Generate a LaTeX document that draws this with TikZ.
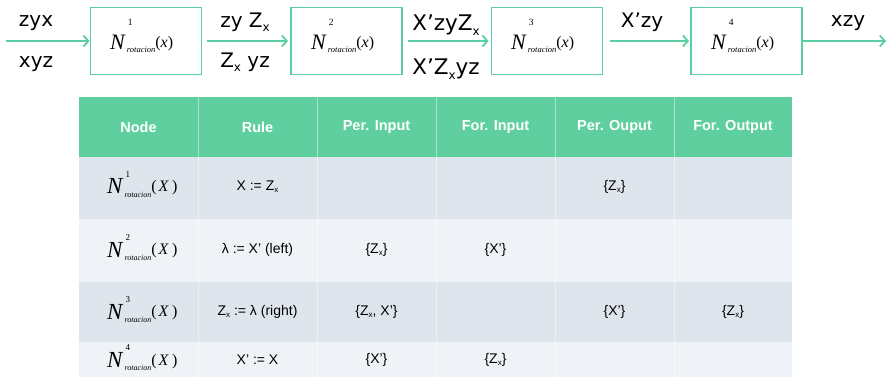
\documentclass[tikz,border=0pt]{standalone}
\usepackage{fontspec}
\setmainfont{Liberation Sans}
\newfontfamily\dvfont{DejaVu Sans}
\newfontfamily\tnr{Liberation Serif}
\usetikzlibrary{arrows.meta}
\definecolor{mint}{HTML}{5CCFA2}
\definecolor{hdr}{HTML}{5FCFA0}
\definecolor{rowA}{HTML}{DFE5EC}
\definecolor{rowB}{HTML}{EFF3F7}
\newcommand{\myNrot}[2]{{\tnr{\fontsize{22}{22}\selectfont\textit{N}}\hspace{1pt}\rlap{\hspace{1pt}\smash{\raisebox{24pt}{\fontsize{9.5}{9.5}\selectfont #1}}}\raisebox{-3pt}{\fontsize{8.5}{8.5}\selectfont\textit{rotacion}}\raisebox{2pt}{\fontsize{16}{16}\selectfont(\textit{#2})}}}
\newcommand{\myNtab}[1]{{\tnr{\fontsize{23}{23}\selectfont\textit{N}}\hspace{1pt}\rlap{\hspace{1pt}\smash{\raisebox{17pt}{\fontsize{9}{9}\selectfont #1}}}\raisebox{-3pt}{\fontsize{8}{8}\selectfont\textit{rotacion}}\raisebox{2pt}{\fontsize{16}{16}\selectfont(\hspace{2pt}\textit{X}\hspace{3pt})}}}
\newcommand{\zs}{\raisebox{-0.35ex}{\fontsize{12}{12}\selectfont x}}
\newcommand{\ts}{\raisebox{-0.3ex}{\fontsize{8}{8}\selectfont x}}
\begin{document}
\begin{tikzpicture}[x=1pt,y=-1pt,
  blk/.style={draw=mint, line width=1.8pt, minimum width=111pt, minimum height=67pt, inner sep=0pt},
  flow/.style={draw=mint, line width=1.8pt, -{Straight Barb[length=5pt,width=11pt,line width=1.8pt]}},
  lbl/.style={font=\dvfont\fontsize{20}{20}\selectfont, inner sep=0pt, anchor=base},
  lblb/.style={font=\dvfont\fontsize{21.5}{21.5}\selectfont, inner sep=0pt, anchor=base},
  hd/.style={font=\bfseries\fontsize{14.5}{14.5}\selectfont, text=white, inner sep=0pt},
  cell/.style={font=\fontsize{14}{14}\selectfont, inner sep=0pt},
  nt/.style={inner sep=0pt, anchor=base west},
  sep/.style={draw=white, draw opacity=0.45, line width=0.8pt}]
\useasboundingbox (0,0) rectangle (887,377);
% top flow
\node[blk] (b1) at (146,41) {};
\node[blk] (b2) at (346.5,41) {};
\node[blk] (b3) at (547,41) {};
\node[blk] (b4) at (746.5,41) {};
\node[nt] (t1) at (110,50) {\myNrot{1}{x}};
\node[nt] (t2) at (311,50) {\myNrot{2}{x}};
\node[nt] (t3) at (511,50) {\myNrot{3}{x}};
\node[nt] (t4) at (711,50) {\myNrot{4}{x}};
\coordinate (in) at (6,41);
\coordinate (out) at (886,41);
\draw[flow] (in) -- (b1.west);
\draw[flow, shorten <=5pt, shorten >=2pt] (b1.east) -- (b2.west);
\draw[flow, shorten <=5pt, shorten >=2pt] (b2.east) -- (b3.west);
\draw[flow, shorten <=7pt, shorten >=1pt] (b3.east) -- (b4.west);
\draw[flow] (b4.east) -- (out);
\node[lbl] (l1a) at (36,27) {zyx};
\node[lbl] (l1b) at (36,68) {xyz};
\node[lbl] (l2a) at (245,28) {zy Z\zs};
\node[lbl] (l2b) at (245,68) {Z\zs\ yz};
\node[lblb] (l3a) at (446,31) {X’zyZ\zs};
\node[lblb] (l3b) at (446,75) {X’Z\zs yz};
\node[lbl] (l4a) at (642,28) {X’zy};
\node[lbl] (l5a) at (848,27) {xzy};
% table backgrounds
\fill[hdr] (79,97) rectangle (792,157);
\fill[rowA] (79,157) rectangle (792,219);
\fill[rowB] (79,219) rectangle (792,282);
\fill[rowA] (79,282) rectangle (792,342);
\fill[rowB] (79,342) rectangle (792,377);
\foreach \x in {198,317,436,555,674} {\draw[sep] (\x,97) -- (\x,377);}
% header
\node[hd] (h1) at (138.5,127) {Node};
\node[hd] (h2) at (257.5,127) {Rule};
\node[hd] (h3) at (376.5,127) {Per. Input};
\node[hd] (h4) at (495.5,127) {For. Input};
\node[hd] (h5) at (614.5,127) {Per. Ouput};
\node[hd] (h6) at (733,127) {For. Output};
% row 1
\node[nt] (n1) at (107,194) {\myNtab{1}};
\node[cell] (r1) at (257.5,187) {X := Z\ts};
\node[cell] (p1) at (614.5,187) {\{Z\ts\}};
% row 2
\node[nt] (n2) at (107,257) {\myNtab{2}};
\node[cell] (r2) at (257.5,250) {λ := X’ (left)};
\node[cell] (q2) at (376.5,250) {\{Z\ts\}};
\node[cell] (f2) at (495.5,250) {\{X’\}};
% row 3
\node[nt] (n3) at (107,319) {\myNtab{3}};
\node[cell] (r3) at (257.5,312) {Z\ts\ := λ (right)};
\node[cell] (q3) at (376.5,312) {\{Z\ts, X’\}};
\node[cell] (p3) at (614.5,312) {\{X’\}};
\node[cell] (o3) at (733,312) {\{Z\ts\}};
% row 4
\node[nt] (n4) at (107,367) {\myNtab{4}};
\node[cell] (r4) at (257.5,360) {X’ := X};
\node[cell] (q4) at (376.5,360) {\{X’\}};
\node[cell] (f4) at (495.5,360) {\{Z\ts\}};
\end{tikzpicture}
\end{document}
